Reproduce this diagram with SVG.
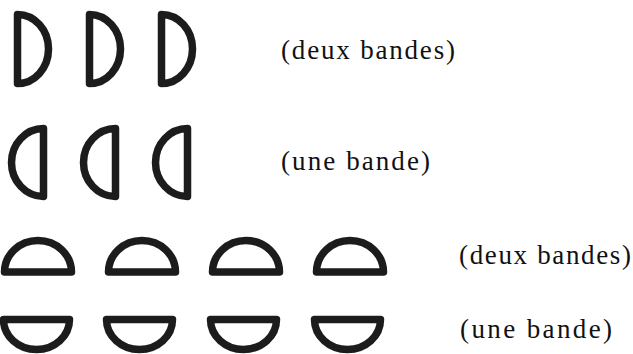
<svg xmlns="http://www.w3.org/2000/svg" width="633" height="354" viewBox="0 0 633 354">
  <style>
    .band { fill: none; stroke: #1c1c1c; stroke-width: 7.5; stroke-linejoin: round; }
    .label { font-family: "Liberation Serif", "Times New Roman", serif; font-size: 27px; fill: #111; }
  </style>
  <defs>
    <!-- half-ring shapes, drawn as stroked half-ellipses -->
    <path id="d-right" class="band" d="M17.5,14.5 A31,34.5 0 0 1 17.5,83.5 Z"/>
    <path id="d-left" class="band" d="M43.5,128.5 L43.5,196.5 A32,34 0 0 1 43.5,128.5 Z"/>
    <path id="d-up" class="band" d="M4.5,272 A33.5,31.5 0 0 1 71.5,272 Z"/>
    <path id="d-down" class="band" d="M3.5,319.5 L69.5,319.5 A33,30 0 0 1 3.5,319.5 Z"/>
  </defs>
  <rect width="633" height="354" fill="#fff"/>

  <g id="row1">
    <use href="#d-right" x="0"/>
    <use href="#d-right" x="72"/>
    <use href="#d-right" x="144"/>
    <text class="label" x="281" y="59" textLength="174" lengthAdjust="spacing">(deux bandes)</text>
  </g>

  <g id="row2">
    <use href="#d-left" x="0"/>
    <use href="#d-left" x="72"/>
    <use href="#d-left" x="144"/>
    <text class="label" x="281" y="170" textLength="149" lengthAdjust="spacing">(une bande)</text>
  </g>

  <g id="row3">
    <use href="#d-up" x="0"/>
    <use href="#d-up" x="104"/>
    <use href="#d-up" x="208"/>
    <use href="#d-up" x="312"/>
    <text class="label" x="459" y="264" textLength="172" lengthAdjust="spacing">(deux bandes)</text>
  </g>

  <g id="row4">
    <use href="#d-down" x="0"/>
    <use href="#d-down" x="103"/>
    <use href="#d-down" x="207"/>
    <use href="#d-down" x="311"/>
    <text class="label" x="460" y="338" textLength="152" lengthAdjust="spacing">(une bande)</text>
  </g>
</svg>
